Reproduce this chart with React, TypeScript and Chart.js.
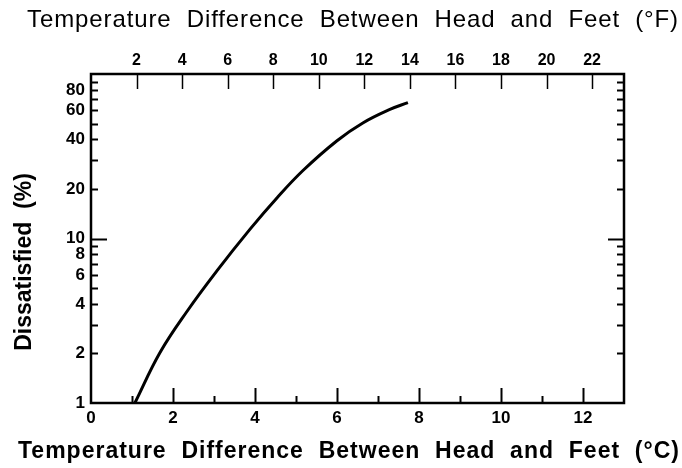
import React, { useEffect, useRef } from "react";
import { Chart, registerables } from "chart.js";

Chart.register(...registerables);

// ---- data ----
const tempC = [1.07, 1.68, 2.34, 3.07, 3.88, 4.54, 5.17, 6.0, 6.63, 7.29, 7.73];
const dissatisfied = [1.0, 2.02, 3.6, 6.35, 11.4, 17.7, 25.9, 39.3, 50.4, 60.9, 67];

const xTicksC = [0, 2, 4, 6, 8, 10, 12];
const xMinorC = [1, 3, 5, 7, 9, 11];
const xTicksF = [2, 4, 6, 8, 10, 12, 14, 16, 18, 20, 22];
const yTickLabels = [1, 2, 4, 6, 8, 10, 20, 40, 60, 80];
const yTickMarks = [2, 3, 4, 5, 6, 7, 8, 9, 10, 20, 30, 40, 50, 60, 70, 80, 90];

const xMinC = 0;
const xMaxC = 13;
const cToF = 1.8;
const yMin = 1;
const yMax = 100;

const titleF = "Temperature  Difference  Between  Head  and  Feet  (°F)";
const titleC = "Temperature  Difference  Between  Head  and  Feet  (°C)";
const titleY = "Dissatisfied  (%)";

const FONT = "'Liberation Sans', Arial, Helvetica, sans-serif";

function drawSpaced(ctx: CanvasRenderingContext2D, text: string, x: number, y: number, target: number) {
  const anyCtx = ctx as any;
  anyCtx.letterSpacing = "0px";
  const w0 = ctx.measureText(text).width;
  const sp = (target - w0) / text.length;
  anyCtx.letterSpacing = sp + "px";
  ctx.textAlign = "left";
  ctx.fillText(text, x - target / 2, y);
  anyCtx.letterSpacing = "0px";
}

const decorPlugin = {
  id: "decor",
  afterDraw(chart: any) {
    const { ctx, chartArea, scales } = chart;
    const { left, right, top, bottom } = chartArea;
    ctx.save();
    ctx.strokeStyle = "#000";
    ctx.fillStyle = "#000";
    ctx.lineCap = "butt";
    // frame
    ctx.lineWidth = 2.5;
    ctx.strokeRect(left, top, right - left, bottom - top);
    ctx.lineWidth = 2;
    const seg = (x1: number, y1: number, x2: number, y2: number) => {
      ctx.beginPath();
      ctx.moveTo(x1, y1);
      ctx.lineTo(x2, y2);
      ctx.stroke();
    };
    // y tick marks (left and right, inward)
    yTickMarks.forEach((v) => {
      const py = Math.round(scales.y.getPixelForValue(v)) + 0.5;
      const len = v === 10 ? 16 : 7;
      seg(left, py, left + len, py);
      seg(right, py, right - len, py);
    });
    // bottom ticks (inward)
    xTicksC.forEach((v) => {
      if (v === xMinC) return;
      const px = Math.round(scales.x.getPixelForValue(v)) + 0.5;
      seg(px, bottom, px, bottom - 15);
    });
    xMinorC.forEach((v) => {
      const px = Math.round(scales.x.getPixelForValue(v)) + 0.5;
      seg(px, bottom, px, bottom - 7);
    });
    // top ticks (inward)
    ctx.lineWidth = 1.5;
    xTicksF.forEach((v) => {
      const px = Math.round(scales.x2.getPixelForValue(v)) + 0.5;
      seg(px, top, px, top + 15);
    });
    // titles
    ctx.textBaseline = "alphabetic";
    ctx.font = `400 24px ${FONT}`;
    drawSpaced(ctx, titleF, 353, 27, 652);
    ctx.font = `700 23px ${FONT}`;
    drawSpaced(ctx, titleC, 349, 458, 662);
    ctx.save();
    ctx.translate(31, 262);
    ctx.rotate(-Math.PI / 2);
    ctx.font = `700 23px ${FONT}`;
    ctx.textAlign = "center";
    ctx.fillText(titleY, 0, 0);
    ctx.restore();
    ctx.restore();
  },
};

export default function App() {
  const ref = useRef<HTMLCanvasElement | null>(null);
  useEffect(() => {
    if (!ref.current) return;
    const points = tempC.map((x, i) => ({ x, y: dissatisfied[i] }));
    const tickFont = { family: FONT, size: 17, weight: "bold" as const };
    const chart = new Chart(ref.current, {
      type: "line",
      data: {
        datasets: [
          {
            data: points,
            borderColor: "#000",
            borderWidth: 3,
            pointRadius: 0,
            fill: false,
            tension: 0.4,
          },
        ],
      },
      options: {
        animation: false,
        responsive: true,
        maintainAspectRatio: false,
        layout: { padding: 0 },
        plugins: { legend: { display: false }, tooltip: { enabled: false } },
        scales: {
          x: {
            type: "linear",
            position: "bottom",
            min: xMinC,
            max: xMaxC,
            afterBuildTicks: (s: any) => {
              s.ticks = xTicksC.map((v) => ({ value: v }));
            },
            afterFit: (s: any) => {
              s.height = 65;
            },
            grid: { display: false, drawTicks: false },
            border: { display: false },
            ticks: { color: "#000", font: tickFont, padding: 5, maxRotation: 0 },
          },
          x2: {
            type: "linear",
            position: "top",
            min: xMinC * cToF,
            max: xMaxC * cToF,
            afterBuildTicks: (s: any) => {
              s.ticks = xTicksF.map((v) => ({ value: v }));
            },
            afterFit: (s: any) => {
              s.height = 74;
            },
            grid: { display: false, drawTicks: false },
            border: { display: false },
            ticks: { color: "#000", font: { family: FONT, size: 16, weight: "600" }, padding: 4, maxRotation: 0 },
          },
          y: {
            type: "logarithmic",
            position: "left",
            min: yMin,
            max: yMax,
            afterBuildTicks: (s: any) => {
              s.ticks = yTickLabels.map((v) => ({ value: v }));
            },
            afterFit: (s: any) => {
              s.width = 91;
            },
            grid: { display: false, drawTicks: false },
            border: { display: false },
            ticks: { color: "#000", font: tickFont, padding: 6, callback: (v: any) => String(v) },
          },
          y2: {
            type: "logarithmic",
            position: "right",
            min: yMin,
            max: yMax,
            afterFit: (s: any) => {
              s.width = 58;
            },
            grid: { display: false, drawTicks: false },
            border: { display: false },
            ticks: { display: false },
          },
        },
      },
      plugins: [decorPlugin],
    } as any);
    return () => chart.destroy();
  }, []);
  return (
    <div style={{ position: "absolute", left: 0, top: 0, width: 682, height: 468, background: "#fff" }}>
      <canvas ref={ref} />
    </div>
  );
}
